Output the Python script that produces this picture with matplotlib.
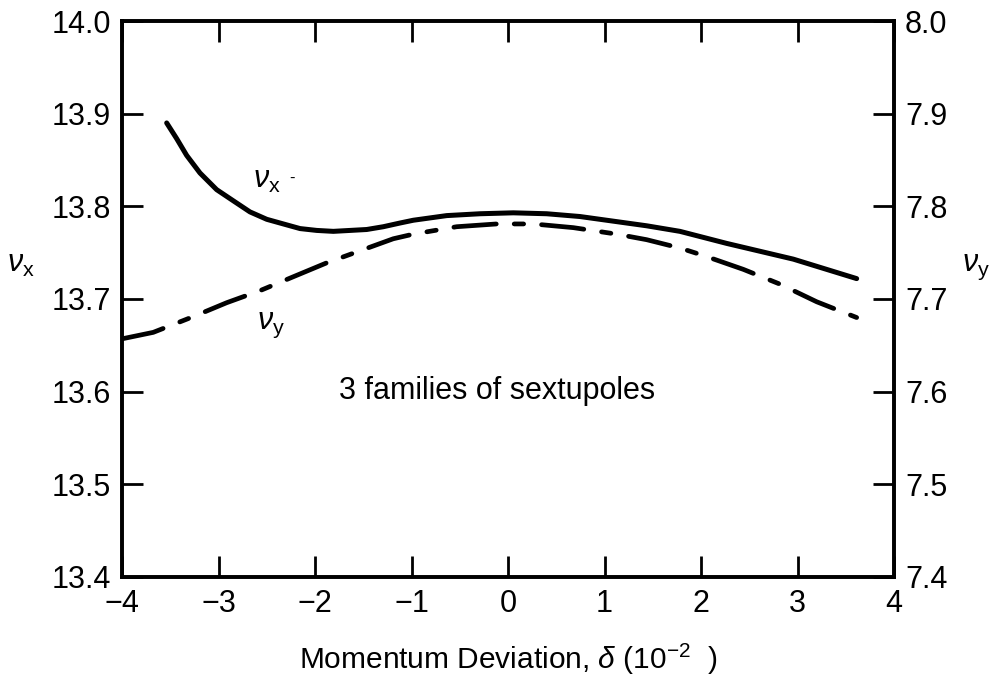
import matplotlib
matplotlib.use("Agg")
import matplotlib.pyplot as plt

plt.rcParams['font.family'] = ['Liberation Sans', 'DejaVu Sans']
plt.rcParams['mathtext.fontset'] = 'custom'
plt.rcParams['mathtext.rm'] = 'Liberation Sans'
plt.rcParams['mathtext.it'] = 'Liberation Sans:italic'
plt.rcParams['mathtext.sf'] = 'Liberation Sans'

# Data
delta_x = [-3.537, -3.433, -3.330, -3.192, -3.019, -2.847, -2.674, -2.500, -2.328, -2.155,
           -1.982, -1.810, -1.637, -1.464, -1.292, -1.119, -0.981, -0.635, -0.290, 0.055,
           0.401, 0.746, 1.091, 1.437, 1.782, 2.266, 2.957, 3.613]
nu_x = [13.890, 13.873, 13.855, 13.836, 13.818, 13.806, 13.794, 13.786, 13.781, 13.776,
        13.774, 13.773, 13.774, 13.775, 13.778, 13.782, 13.785, 13.790, 13.792, 13.793,
        13.792, 13.789, 13.784, 13.779, 13.773, 13.760, 13.743, 13.722]

delta_y = [-4.0, -3.676, -3.261, -2.915, -2.570, -2.225, -1.879, -1.534, -1.189, -0.981,
           -0.532, -0.117, 0.262, 0.677, 1.126, 1.437, 1.782, 2.024, 2.438, 2.819,
           3.199, 3.613]
nu_y_on_left = [13.657, 13.664, 13.681, 13.696, 13.709, 13.724, 13.739, 13.752, 13.765, 13.770,
                13.778, 13.781, 13.781, 13.777, 13.770, 13.764, 13.755, 13.747, 13.732, 13.716,
                13.697, 13.680]

x_ticks = [-4, -3, -2, -1, 0, 1, 2, 3, 4]
left_ticks = [13.4, 13.5, 13.6, 13.7, 13.8, 13.9, 14.0]
right_ticks = [7.4, 7.5, 7.6, 7.7, 7.8, 7.9, 8.0]

fig = plt.figure(figsize=(10, 6.8), dpi=100)
ax = fig.add_axes([0.122, 0.1515, 0.772, 0.8176])

ax.plot(delta_x, nu_x, color='black', lw=3.6, solid_capstyle='round',
        solid_joinstyle='round')
ax.plot(delta_y, nu_y_on_left, color='black', lw=3.4, dashes=(9.0, 3.8, 2.0, 3.8),
        dash_capstyle='round', dash_joinstyle='round')

ax.set_xlim(-4, 4)
ax.set_ylim(13.4, 14.0)
ax.set_xticks(x_ticks)
ax.set_xticklabels(['\u2212' + str(-t) if t < 0 else str(t) for t in x_ticks])
ax.set_yticks(left_ticks)
ax.set_yticklabels([f'{t:.1f}' for t in left_ticks])

ax2 = ax.twinx()
ax2.set_ylim(7.4, 8.0)
ax2.set_yticks(right_ticks)
ax2.set_yticklabels([f'{t:.1f}' for t in right_ticks])

for a in (ax, ax2):
    for s in a.spines.values():
        s.set_linewidth(2.6)
ax.tick_params(axis='x', direction='in', length=15, width=2, labelsize=22, pad=9,
               top=True, labeltop=False)
ax.tick_params(axis='y', direction='in', length=15, width=2, labelsize=22, pad=8)
ax2.tick_params(axis='y', direction='in', length=15, width=2, labelsize=22, pad=8)

ax.set_xlabel(r'Momentum Deviation, $\delta$ (10$^{-2}$  )', fontsize=21.5, labelpad=16)

fig.text(0.021, 0.612, r'$\nu_{\mathsf{x}}$', fontsize=22, ha='center', va='center')
fig.text(0.976, 0.607, r'$\nu_{\mathsf{y}}$', fontsize=22, ha='center', va='center')

ax.text(-2.50, 13.828, r'$\nu_{\mathsf{x}}$', fontsize=22, ha='center', va='center')
ax.text(-2.24, 13.830, '-', fontsize=12, ha='center', va='center')
ax.text(-2.46, 13.672, r'$\nu_{\mathsf{y}}$', fontsize=22, ha='center', va='center')
ax.text(-0.11, 13.601, '3 families of sextupoles', fontsize=22, ha='center', va='center')

fig.savefig('out.png', dpi=100, facecolor='white')
